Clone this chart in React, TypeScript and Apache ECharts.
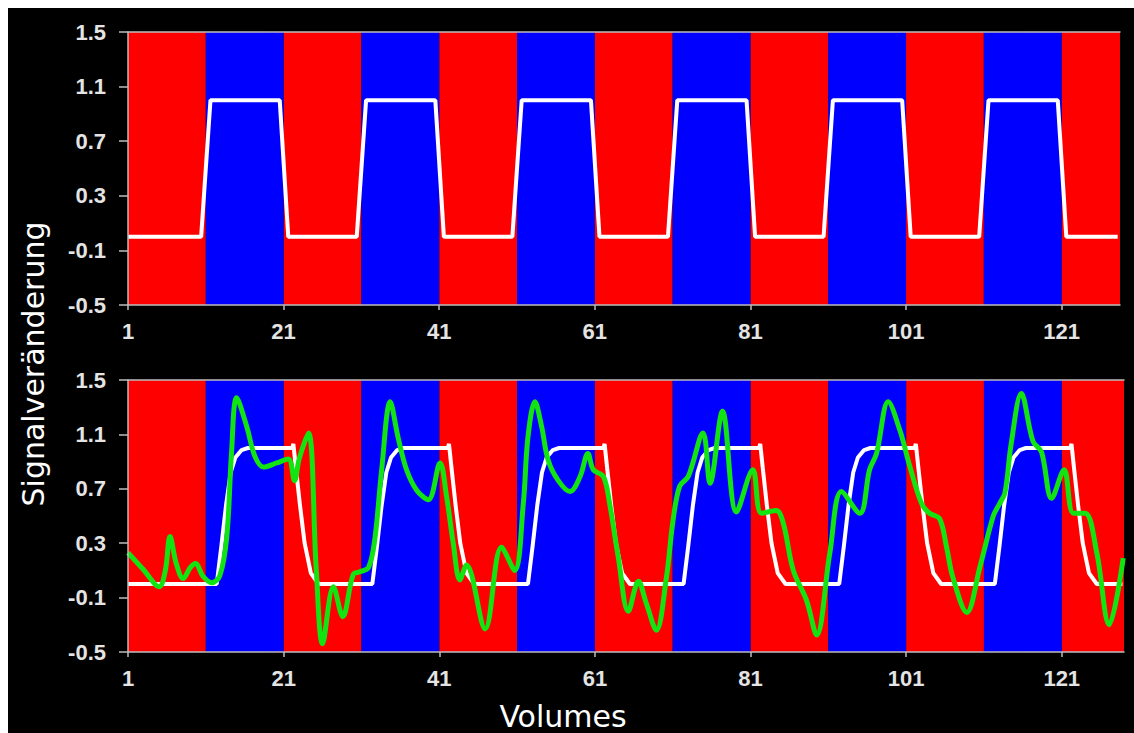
import React, { useEffect, useRef } from "react";
import * as echarts from "echarts";

// ---------- data ----------
const xTicks = [1, 21, 41, 61, 81, 101, 121];
const yTicks = [-0.5, -0.1, 0.3, 0.7, 1.1, 1.5];

// rest (red) and task (blue) blocks, in volumes
const restBlocks = [[1, 11], [21, 31], [41, 51], [61, 71], [81, 91], [101, 111], [121, 129]];
const taskBlocks = [[11, 21], [31, 41], [51, 61], [71, 81], [91, 101], [111, 121]];

// top panel: boxcar model
const boxcarModel = [
  [1, 0], [10.4, 0], [11.6, 1], [20.5, 1], [21.6, 0],
  [30.4, 0], [31.6, 1], [40.5, 1], [41.6, 0],
  [50.4, 0], [51.6, 1], [60.5, 1], [61.6, 0],
  [70.4, 0], [71.6, 1], [80.5, 1], [81.6, 0],
  [90.4, 0], [91.6, 1], [100.5, 1], [101.6, 0],
  [110.4, 0], [111.6, 1], [120.5, 1], [121.6, 0],
  [128.2, 0],
];

// bottom panel: convolved (HRF) model
const hrfModel = [
  [1, 0],
  [12.4, 0], [13.0, 0.28], [13.6, 0.58], [14.2, 0.82], [14.8, 0.93], [15.6, 0.985], [16.4, 1.0],
  [22.1, 1.0], [22.25, 1.03], [22.6, 0.84], [23.1, 0.58], [23.7, 0.3], [24.5, 0.08], [25.5, 0],
  [32.4, 0], [33.0, 0.28], [33.6, 0.58], [34.2, 0.82], [34.8, 0.93], [35.6, 0.985], [36.4, 1.0],
  [42.1, 1.0], [42.25, 1.03], [42.6, 0.84], [43.1, 0.58], [43.7, 0.3], [44.5, 0.08], [45.5, 0],
  [52.4, 0], [53.0, 0.28], [53.6, 0.58], [54.2, 0.82], [54.8, 0.93], [55.6, 0.985], [56.4, 1.0],
  [62.1, 1.0], [62.25, 1.03], [62.6, 0.84], [63.1, 0.58], [63.7, 0.3], [64.5, 0.08], [65.5, 0],
  [72.4, 0], [73.0, 0.28], [73.6, 0.58], [74.2, 0.82], [74.8, 0.93], [75.6, 0.985], [76.4, 1.0],
  [82.1, 1.0], [82.25, 1.03], [82.6, 0.84], [83.1, 0.58], [83.7, 0.3], [84.5, 0.08], [85.5, 0],
  [92.4, 0], [93.0, 0.28], [93.6, 0.58], [94.2, 0.82], [94.8, 0.93], [95.6, 0.985], [96.4, 1.0],
  [102.1, 1.0], [102.25, 1.03], [102.6, 0.84], [103.1, 0.58], [103.7, 0.3], [104.5, 0.08], [105.5, 0],
  [112.4, 0], [113.0, 0.28], [113.6, 0.58], [114.2, 0.82], [114.8, 0.93], [115.6, 0.985], [116.4, 1.0],
  [122.1, 1.0], [122.25, 1.03], [122.6, 0.84], [123.1, 0.58], [123.7, 0.3], [124.5, 0.08], [125.5, 0],
  [128.8, 0],
];

// bottom panel: measured signal
const measuredSignal = [
  [1, 0.23], [3, 0.105], [5.0, -0.02], [5.8, 0.1], [6.4, 0.35], [7.2, 0.15], [8.1, 0.04], [9.0, 0.12],
  [9.7, 0.15], [10.6, 0.06], [11.75, 0.01], [12.8, 0.06], [13.7, 0.35], [14.3, 0.96], [14.96, 1.37],
  [16.25, 1.16], [17.3, 0.94], [18.4, 0.86], [20.1, 0.89], [21.6, 0.92], [22.4, 0.76], [23.0, 0.92],
  [24.2, 1.11], [25.2, 0.1], [26.0, -0.44], [27.4, -0.02], [28.6, -0.24], [29.95, 0.07], [30.8, 0.09],
  [31.9, 0.12], [32.7, 0.32], [33.6, 0.84], [34.7, 1.34], [35.7, 1.08], [36.8, 0.84], [38.1, 0.69],
  [39.6, 0.62], [41.1, 0.89], [41.95, 0.64], [42.8, 0.3], [43.65, 0.03], [44.5, 0.14], [46.9, -0.33],
  [49.0, 0.27], [50.7, 0.1], [51.8, 0.59], [52.4, 1.08], [53.3, 1.34], [54.15, 1.16], [55.0, 0.91],
  [56.3, 0.76], [57.8, 0.68], [59.1, 0.79], [60.1, 0.96], [60.8, 0.84], [62.1, 0.79], [62.9, 0.59],
  [64.0, 0.2], [65.3, -0.2], [66.6, 0.02], [67.6, -0.14], [68.9, -0.34], [70.2, 0.05], [71.05, 0.47],
  [71.9, 0.72], [73.0, 0.79], [74.9, 1.11], [75.8, 0.74], [77.4, 1.27], [79.2, 0.53], [81.3, 0.84],
  [82.4, 0.52], [84.3, 0.54], [85.2, 0.45], [86.5, 0.1], [88.2, -0.12], [89.5, -0.375], [91.2, 0.23],
  [92.7, 0.68], [95.05, 0.52], [96.3, 0.84], [97.2, 0.96], [98.7, 1.34], [100.2, 1.13], [101.5, 0.86],
  [103.0, 0.59], [104.0, 0.52], [105.3, 0.48], [106.2, 0.27], [107.0, 0.05], [108.8, -0.21],
  [110.5, 0.13], [112.2, 0.5], [113.0, 0.59], [113.7, 0.67], [114.5, 1.03], [115.8, 1.4], [117.3, 1.05],
  [118.4, 0.97], [119.7, 0.63], [121.3, 0.84], [122.5, 0.52], [124.0, 0.52], [125.5, 0.23],
  [127.1, -0.3], [128.9, 0.19],
];

const yAxisTitle = "Signalveränderung";
const xAxisTitle = "Volumes";

// ---------- styles ----------
const RED = "#ff0000";
const BLUE = "#0000ff";
const AXIS = "#bdbdbd";
const LABEL = {
  color: "#e4e4e4",
  fontFamily: "'Liberation Sans', Arial, sans-serif",
  fontWeight: "bold" as const,
  fontSize: 22,
};

function bandAreas(max: number) {
  const areas: any[] = [];
  restBlocks.forEach(([a, b]) =>
    areas.push([{ xAxis: a, itemStyle: { color: RED } }, { xAxis: Math.min(b, max) }])
  );
  taskBlocks.forEach(([a, b]) =>
    areas.push([{ xAxis: a, itemStyle: { color: BLUE } }, { xAxis: Math.min(b, max) }])
  );
  return areas;
}

function xAxes(gridIndex: number, max: number) {
  return [
    {
      type: "value",
      gridIndex,
      min: 1,
      max,
      z: 10,
      axisLine: { show: true, onZero: false, lineStyle: { color: AXIS, width: 1.5 } },
      axisTick: { show: true, customValues: xTicks, length: 5, lineStyle: { color: AXIS, width: 1.5 } },
      axisLabel: { show: true, customValues: xTicks, margin: 15, ...LABEL },
      splitLine: { show: false },
    },
    {
      type: "value",
      gridIndex,
      min: 1,
      max,
      position: "top",
      z: 10,
      axisLine: { show: true, onZero: false, lineStyle: { color: AXIS, width: 1.5 } },
      axisTick: { show: false },
      axisLabel: { show: false },
      splitLine: { show: false },
    },
  ];
}

function yAxis(gridIndex: number) {
  return {
    type: "value",
    gridIndex,
    min: -0.5,
    max: 1.5,
    z: 10,
    axisLine: { show: true, onZero: false, lineStyle: { color: AXIS, width: 1.5 } },
    axisTick: { show: true, customValues: yTicks, length: 9, lineStyle: { color: AXIS, width: 1.5 } },
    axisLabel: {
      show: true,
      customValues: yTicks,
      margin: 22,
      formatter: (v: number) => v.toFixed(1),
      ...LABEL,
    },
    splitLine: { show: false },
  };
}

const TOP_MAX = 128.5;
const BOTTOM_MAX = 129;

export default function App() {
  const ref = useRef<HTMLDivElement>(null);

  useEffect(() => {
    if (!ref.current) return;
    const chart = echarts.init(ref.current, undefined, { renderer: "svg" });
    chart.setOption({
      animation: false,
      backgroundColor: "#000000",
      grid: [
        { left: 120, top: 24, width: 992, height: 273 },
        { left: 120, top: 372, width: 996, height: 272 },
      ],
      xAxis: [...xAxes(0, TOP_MAX), ...xAxes(1, BOTTOM_MAX)],
      yAxis: [yAxis(0), yAxis(1)],
      series: [
        {
          type: "line",
          xAxisIndex: 0,
          yAxisIndex: 0,
          data: boxcarModel,
          showSymbol: false,
          z: 3,
          lineStyle: { color: "#ffffff", width: 4 },
          markArea: { silent: true, data: bandAreas(TOP_MAX) },
        },
        {
          type: "line",
          xAxisIndex: 2,
          yAxisIndex: 1,
          data: hrfModel,
          showSymbol: false,
          z: 3,
          lineStyle: { color: "#ffffff", width: 4 },
          markArea: { silent: true, data: bandAreas(BOTTOM_MAX) },
        },
        {
          type: "line",
          xAxisIndex: 2,
          yAxisIndex: 1,
          data: measuredSignal,
          showSymbol: false,
          smooth: 0.35,
          z: 4,
          lineStyle: { color: "#12e412", width: 5 },
        },
      ],
      graphic: [
        {
          type: "text",
          x: 25,
          y: 356,
          rotation: Math.PI / 2,
          style: {
            text: yAxisTitle,
            fill: "#ffffff",
            font: "30px 'DejaVu Sans'",
            align: "center",
            verticalAlign: "middle",
          },
        },
        {
          type: "text",
          x: 555,
          y: 708,
          style: {
            text: xAxisTitle,
            fill: "#ffffff",
            font: "30px 'DejaVu Sans'",
            align: "center",
            verticalAlign: "middle",
          },
        },
      ],
    });
    return () => chart.dispose();
  }, []);

  return (
    <div
      ref={ref}
      style={{ position: "fixed", left: 8, top: 8, width: 1126, height: 725, background: "#000" }}
    />
  );
}
